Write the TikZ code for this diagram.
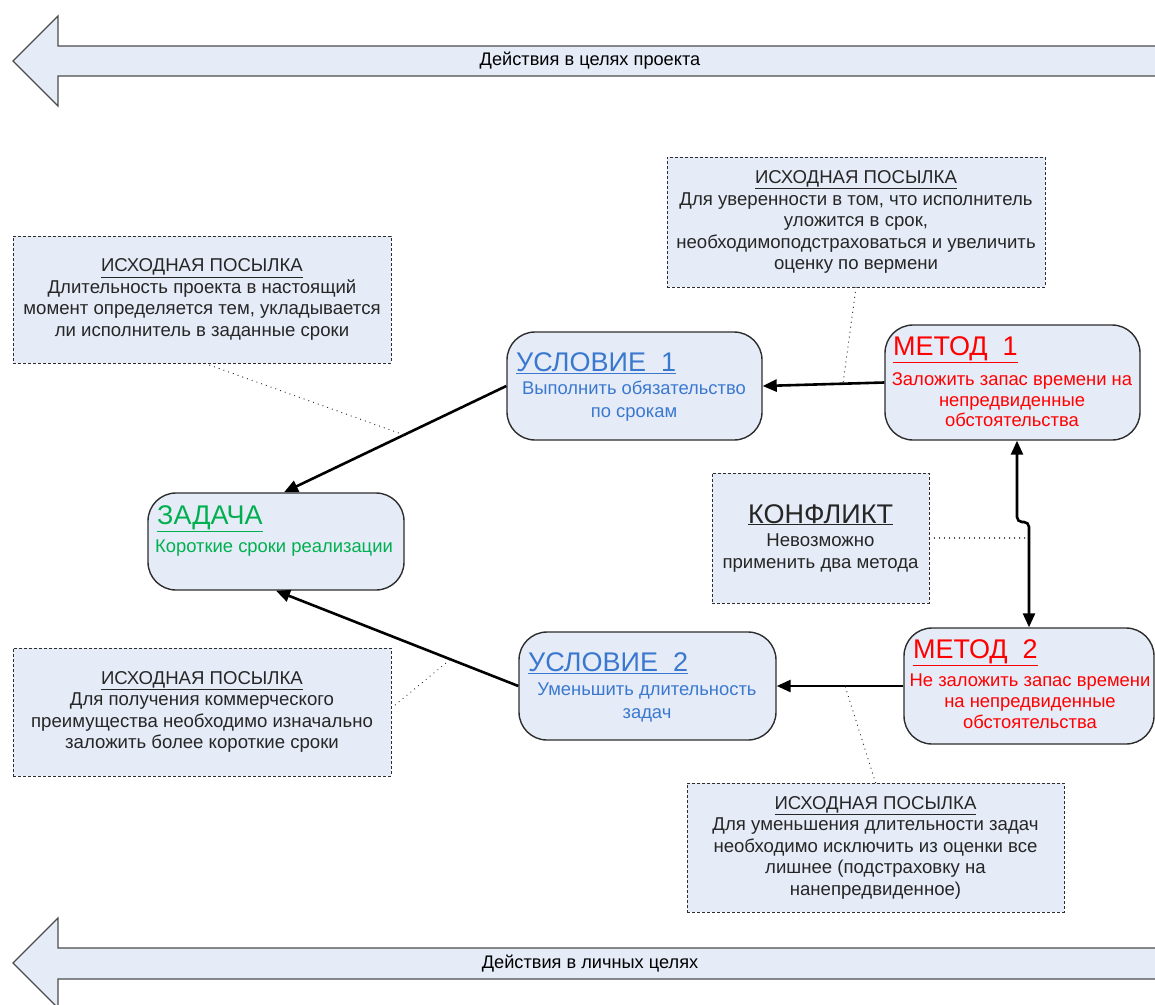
\documentclass[tikz,border=0pt]{standalone}
\usepackage{fontspec}
\setmainfont{Liberation Sans}
\usepackage{tikz}
\usetikzlibrary{arrows.meta,positioning}
\definecolor{boxfill}{RGB}{230,236,247}
\definecolor{usltext}{RGB}{58,120,208}
\definecolor{zadtext}{RGB}{0,176,80}
\definecolor{mettext}{RGB}{255,0,0}
\definecolor{edge}{RGB}{45,45,45}
\newcommand\bodytxt{\fontsize{18.6}{21.5}\selectfont}
\newcommand\inbodytxt{\fontsize{18.4}{22.5}\selectfont}
\newcommand\titletxt{\fontsize{27}{30}\selectfont}

\begin{document}
\begin{tikzpicture}[x=1pt,y=-1pt,
  bigarrow/.style={draw=edge!85,line width=1.2pt,fill=boxfill},
  premise/.style={draw=edge,line width=0.9pt,dash pattern=on 3pt off 2pt,fill=boxfill,
    align=center,font=\bodytxt,text=black!85,minimum width=378pt},
  roundbox/.style={draw=edge,line width=1.4pt,fill=boxfill,rounded corners=28pt},
  ttl/.style={anchor=west,inner sep=0pt,font=\titletxt},
  bdy/.style={align=center,inner sep=0pt,font=\inbodytxt},
  conn/.style={draw=black,line width=2.6pt,-{Triangle[length=14pt,width=12pt]}},
  note/.style={draw=edge,line width=1.3pt,dash pattern=on 0.01pt off 5pt,line cap=round}]
\useasboundingbox (0,0) rectangle (1155,1004);

\draw[bigarrow] (1170,46)--(58,46)--(58,16)--(13,61)--(58,106)--(58,76)--(1170,76)--cycle;
\node[font=\fontsize{18.2}{21}\selectfont] (aimproj) at (590,61) {Действия в целях проекта};
\draw[bigarrow] (1170,948)--(58,948)--(58,918)--(13,963)--(58,1008)--(58,979)--(1170,979)--cycle;
\node[font=\fontsize{18.2}{21}\selectfont] (aimpers) at (590,964) {Действия в личных целях};

\node[premise,minimum height=127pt] (premA) at (202,299.5)
  {\underline{ИСХОДНАЯ ПОСЫЛКА}\\Длительность проекта в настоящий\\момент определяется тем, укладывается\\ли исполнитель в заданные сроки};
\node[premise,minimum height=130pt] (premB) at (856,222)
  {\underline{ИСХОДНАЯ ПОСЫЛКА}\\Для уверенности в том, что исполнитель\\уложится в срок,\\необходимоподстраховаться и увеличить\\оценку по вермени};
\node[premise,minimum height=128pt] (premC) at (202,712)
  {\underline{ИСХОДНАЯ ПОСЫЛКА}\\Для получения коммерческого\\преимущества необходимо изначально\\заложить более короткие сроки};
\node[premise,minimum height=129pt,minimum width=377pt] (premD) at (875.5,847.5)
  {\underline{ИСХОДНАЯ ПОСЫЛКА}\\Для уменьшения длительности задач\\необходимо исключить из оценки все\\лишнее (подстраховку на\\нанепредвиденное)};
\node[premise,minimum height=130pt,minimum width=217pt] (conflict) at (820.5,538)
  {{\titletxt\underline{КОНФЛИКТ}}\\[2pt]Невозможно\\применить два метода};

\node[roundbox,minimum width=256pt,minimum height=97pt] (zadacha) at (276,541.5) {};
\node[ttl,text=zadtext] (zadttl) at (157,519) {\underline{ЗАДАЧА}};
\node[bdy,text=zadtext] (zadbdy) at (274,548) {Короткие сроки реализации};

\node[roundbox,minimum width=255pt,minimum height=108pt] (usl1) at (634.5,386) {};
\node[ttl,text=usltext] (usl1ttl) at (516,363) {\underline{УСЛОВИЕ\ \ 1}};
\node[bdy,text=usltext] (usl1bdy) at (634,401) {Выполнить обязательство\\по срокам};

\node[roundbox,minimum width=257pt,minimum height=108pt] (usl2) at (647.5,686) {};
\node[ttl,text=usltext] (usl2ttl) at (528,663) {\underline{УСЛОВИЕ\ \ 2}};
\node[bdy,text=usltext] (usl2bdy) at (647,702.5) {Уменьшить длительность\\задач};

\node[roundbox,minimum width=255pt,minimum height=115pt] (met1) at (1012.5,382.5) {};
\node[ttl,text=mettext] (met1ttl) at (893,350) {\underline{МЕТОД\ \ 1}};
\node[bdy,text=mettext,font=\fontsize{18.4}{20.5}\selectfont] (met1bdy) at (1012,400) {Заложить запас времени на\\непредвиденные\\обстоятельства};

\node[roundbox,minimum width=250pt,minimum height=116pt] (met2) at (1029,686) {};
\node[ttl,text=mettext] (met2ttl) at (913,653) {\underline{МЕТОД\ \ 2}};
\node[bdy,text=mettext,font=\fontsize{18.4}{21}\selectfont] (met2bdy) at (1030,701) {Не заложить запас времени\\на непредвиденные\\обстоятельства};

\draw[conn] (usl1.west) -- coordinate[pos=0.46] (onA) ([xshift=8pt]zadacha.north);
\draw[conn] (usl2.west) -- coordinate[pos=0.28] (onC) (zadacha.south);
\draw[conn] (met1.west) -- coordinate[pos=0.34] (onB) (usl1.east);
\draw[conn] (met2.west) -- coordinate[pos=0.46] (onD) (usl2.east);

\coordinate (m1s) at ([xshift=4.5pt]met1.south);
\coordinate (jog) at (0,522);
\draw[conn,{Triangle[length=14pt,width=12pt]}-{Triangle[length=14pt,width=12pt]},rounded corners=5pt]
  (m1s) |- (met2.north |- jog) -- (met2.north);

\draw[note] ([xshift=3pt]premA.south) -- (onA);
\draw[note] ([yshift=4pt]premC.east) -- (onC);
\draw[note] (premB.south) -- (onB);
\draw[note] (premD.north) -- (onD);
\draw[note] (conflict.east) -- (met2.north |- conflict.east);
\end{tikzpicture}
\end{document}
